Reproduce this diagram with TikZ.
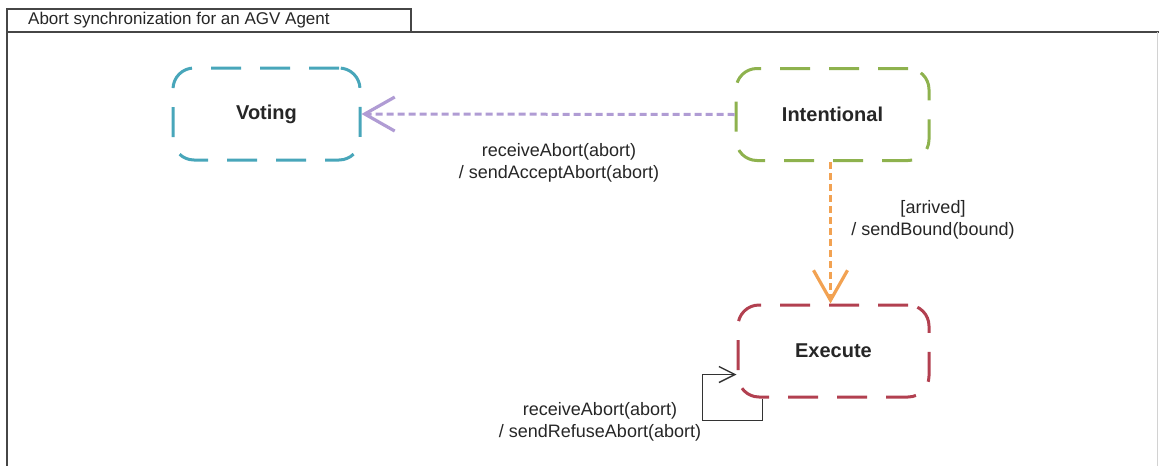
\documentclass[tikz,border=0pt]{standalone}
\usepackage{fontspec}
\setmainfont{Liberation Sans}
\usetikzlibrary{arrows.meta}
\definecolor{cvote}{RGB}{72,166,186}
\definecolor{cint}{RGB}{142,178,78}
\definecolor{cexe}{RGB}{178,64,80}
\definecolor{cpur}{RGB}{176,156,212}
\definecolor{cora}{RGB}{242,162,82}
\definecolor{cframe}{RGB}{70,70,70}
\tikzset{
  statebox/.style={draw, line width=3pt, rounded corners=21pt, dash pattern=on 30pt off 19pt,
    minimum width=#1, minimum height=92pt, inner sep=0pt, fill=white,
    font=\bfseries\fontsize{20}{24}\selectfont, text=black!85},
  trans/.style={line width=3pt, dash pattern=on 7pt off 4pt,
    -{Straight Barb[length=30pt,width=34pt,line width=3.2pt]}},
  lbl/.style={align=center, font=\fontsize{18}{21.5}\selectfont, text=black!85, inner sep=0pt},
  selfloop/.style={draw=black!80, line width=1.3pt, -{Straight Barb[length=16pt,width=16pt,line width=1.4pt]}},
}
\begin{document}
\begin{tikzpicture}[x=1pt,y=-1pt]
\useasboundingbox (0,0) rectangle (1159,466);
% frame
\draw[cframe, line width=1.3pt] (7,32) -- (1159,32);
\draw[cframe, line width=2.2pt] (7,9) -- (7,466);
\draw[cframe, line width=1.3pt] (7,9) rectangle (411,32);
\draw[gray!35, line width=0.8pt] (1157,32) -- (1157,466);
\node[anchor=west, inner sep=0pt, font=\fontsize{17}{20}\selectfont, text=black!85] (title) at (28,20.5) {Abort synchronization for an AGV Agent};
% states
\node[statebox=187pt, draw=cvote] (voting) at (266.5,114) {Voting};
\node[statebox=193pt, draw=cint] (intent) at (832.5,114.5) {Intentional};
\node[statebox=191pt, draw=cexe] (exec) at (833.5,351) {Execute};
% transitions
\draw[trans, cpur] (intent.west) -- (voting.east);
\draw[trans, cora] ([xshift=-2pt]intent.south) -- ([xshift=-3pt]exec.north);
\node[lbl] (l1) at (559,163) {receiveAbort(abort)\\/ sendAcceptAbort(abort)};
\node[lbl] (l2) at (933,220) {[arrived]\\/ sendBound(bound)};
% self loop
\draw[selfloop] ([xshift=26pt]exec.south west) -- ++(0,22) -- ++(-60,0) -- ++(0,-46) coordinate (lc) -- (exec.west |- lc);
\node[lbl] (l3) at (600,422) {receiveAbort(abort)\\/ sendRefuseAbort(abort)};
\end{tikzpicture}
\end{document}
